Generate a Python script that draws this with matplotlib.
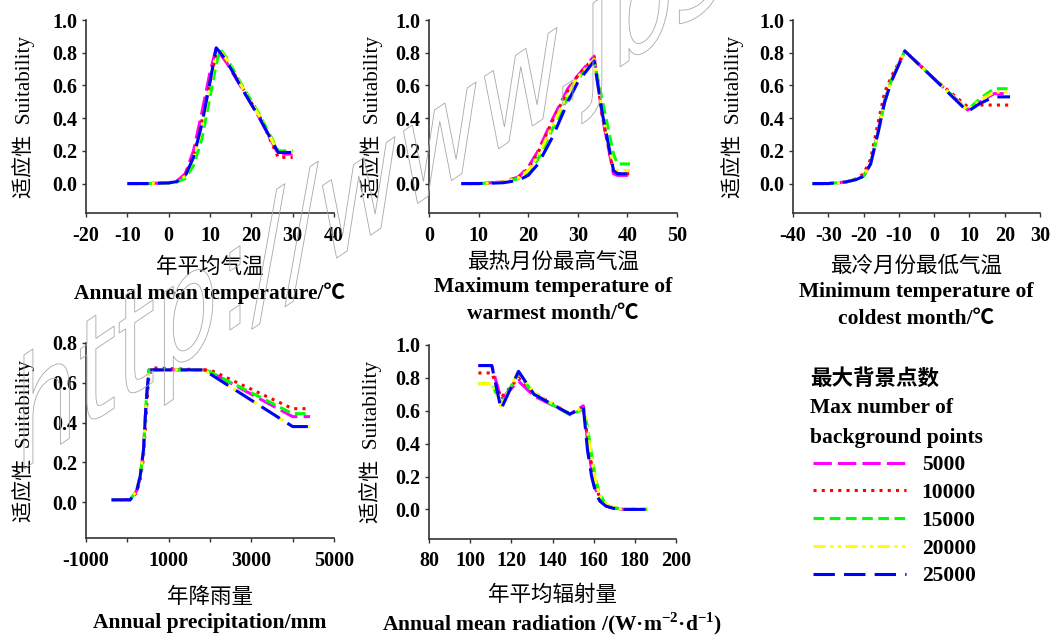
import matplotlib
matplotlib.use("Agg")
import matplotlib.pyplot as plt
from matplotlib.font_manager import FontProperties
from matplotlib.textpath import TextPath
from matplotlib.patches import PathPatch
from matplotlib.transforms import Affine2D, IdentityTransform

plt.rcParams['axes.unicode_minus'] = False
plt.rcParams['mathtext.fontset'] = 'custom'
plt.rcParams['mathtext.rm'] = 'Liberation Serif:bold'
plt.rcParams['mathtext.bf'] = 'Liberation Serif:bold'

# series = max number of background points
series = ['5000', '10000', '15000', '20000', '25000']
colors = ['#ff00ff', '#ff0000', '#00ff00', '#ffff00', '#0000ff']
styles = [(0, (6, 2)), (0, (1, 1.7)), (0, (3.5, 1.8)), (0, (4, 1.5, 1, 1.5, 1, 1.5)), (0, (7, 3))]

# annual mean temperature
x_t1 = [-10, -5, 0, 2, 4, 6, 8, 10, 11.5, 12.5, 14, 18, 22, 26.5, 30]
y_t1 = [
    [0, 0, 0.005, 0.015, 0.06, 0.20, 0.43, 0.68, 0.83, 0.79, 0.74, 0.57, 0.40, 0.18, 0.18],
    [0, 0, 0.005, 0.015, 0.05, 0.17, 0.38, 0.63, 0.79, 0.80, 0.75, 0.58, 0.41, 0.16, 0.16],
    [0, 0, 0.003, 0.010, 0.03, 0.11, 0.27, 0.53, 0.73, 0.82, 0.77, 0.59, 0.42, 0.20, 0.20],
    [0, 0, 0.004, 0.012, 0.045, 0.15, 0.34, 0.60, 0.80, 0.81, 0.76, 0.58, 0.41, 0.19, 0.19],
    [0, 0, 0.004, 0.012, 0.045, 0.16, 0.36, 0.62, 0.83, 0.80, 0.75, 0.57, 0.40, 0.19, 0.19],
]

# max temperature of warmest month
x_t2 = [6.5, 10, 15, 18, 20, 22, 25, 28, 30, 33.3, 35, 37.2, 38, 40.5]
y_t2 = [
    [0, 0, 0.01, 0.04, 0.10, 0.20, 0.40, 0.58, 0.66, 0.78, 0.40, 0.06, 0.05, 0.05],
    [0, 0, 0.01, 0.04, 0.09, 0.19, 0.39, 0.57, 0.66, 0.77, 0.40, 0.07, 0.06, 0.06],
    [0, 0, 0.008, 0.03, 0.07, 0.15, 0.34, 0.53, 0.64, 0.75, 0.50, 0.18, 0.12, 0.12],
    [0, 0, 0.009, 0.035, 0.08, 0.17, 0.36, 0.55, 0.65, 0.76, 0.42, 0.10, 0.08, 0.08],
    [0, 0, 0.005, 0.02, 0.05, 0.12, 0.29, 0.50, 0.62, 0.75, 0.42, 0.08, 0.06, 0.06],
]

# min temperature of coldest month
x_t3 = [-34.5, -30, -25, -22, -20, -18, -16, -14, -12, -8.3, 0, 9.5, 13, 17, 21.5]
y_t3 = [
    [0, 0, 0.01, 0.025, 0.045, 0.12, 0.31, 0.51, 0.64, 0.81, 0.64, 0.45, 0.50, 0.55, 0.55],
    [0, 0, 0.01, 0.03, 0.06, 0.15, 0.36, 0.56, 0.66, 0.81, 0.64, 0.47, 0.48, 0.48, 0.48],
    [0, 0, 0.01, 0.025, 0.045, 0.12, 0.30, 0.50, 0.64, 0.81, 0.64, 0.45, 0.52, 0.58, 0.58],
    [0, 0, 0.01, 0.025, 0.045, 0.12, 0.30, 0.50, 0.64, 0.81, 0.64, 0.45, 0.51, 0.56, 0.56],
    [0, 0, 0.01, 0.025, 0.045, 0.12, 0.30, 0.50, 0.63, 0.81, 0.64, 0.44, 0.49, 0.53, 0.53],
]

# annual precipitation
x_t4 = [-380, 70, 230, 310, 390, 455, 520, 600, 1850, 2000, 4000, 4420]
y_t4 = [
    [0.012, 0.012, 0.06, 0.13, 0.26, 0.50, 0.665, 0.665, 0.665, 0.655, 0.43, 0.43],
    [0.012, 0.012, 0.05, 0.11, 0.22, 0.44, 0.63, 0.675, 0.665, 0.665, 0.47, 0.47],
    [0.012, 0.012, 0.06, 0.13, 0.26, 0.50, 0.665, 0.665, 0.665, 0.655, 0.445, 0.445],
    [0.012, 0.012, 0.06, 0.13, 0.26, 0.50, 0.665, 0.665, 0.665, 0.645, 0.38, 0.38],
    [0.012, 0.012, 0.06, 0.13, 0.26, 0.50, 0.665, 0.665, 0.665, 0.645, 0.38, 0.38],
]

# annual mean radiation
x_t5 = [104, 110.5, 115, 123.5, 131, 148.5, 155, 157, 159, 161, 163, 166, 170, 175, 186]
y_t5 = [
    [0.875, 0.875, 0.67, 0.78, 0.69, 0.58, 0.63, 0.42, 0.24, 0.12, 0.06, 0.02, 0.006, 0, 0],
    [0.83, 0.83, 0.68, 0.80, 0.71, 0.58, 0.62, 0.44, 0.27, 0.14, 0.07, 0.025, 0.008, 0, 0],
    [0.765, 0.765, 0.64, 0.83, 0.70, 0.575, 0.61, 0.50, 0.33, 0.18, 0.09, 0.03, 0.01, 0, 0],
    [0.765, 0.765, 0.63, 0.84, 0.71, 0.58, 0.62, 0.48, 0.31, 0.17, 0.08, 0.03, 0.01, 0, 0],
    [0.875, 0.875, 0.61, 0.84, 0.70, 0.58, 0.62, 0.36, 0.20, 0.10, 0.05, 0.02, 0.005, 0, 0],
]

W, H = 1057, 637
fig = plt.figure(figsize=(W / 100, H / 100), dpi=100)

serif = ['Liberation Serif', 'Noto Sans CJK SC']
tick_fp = FontProperties(family='Liberation Serif', weight='bold', size=14.5)
lab_fp_size = 15.5


def add_panel(left, top, right, bottom):
    return fig.add_axes([left / W, 1 - bottom / H, (right - left) / W, (bottom - top) / H])


panels = [
    dict(box=(86, 20, 334, 213), x=x_t1, y=y_t1, xlim=(-20, 40), xticks=range(-20, 41, 10), xlabels=None,
         ylim=(-0.18, 1.0), yticks=[0, 0.2, 0.4, 0.6, 0.8, 1.0], ylab_x=-0.206,
         texts=[('年平均气温', 54), ('Annual mean temperature/℃', 80)]),
    dict(box=(429, 20, 677, 213), x=x_t2, y=y_t2, xlim=(0, 50), xticks=range(0, 51, 10), xlabels=None,
         ylim=(-0.18, 1.0), yticks=[0, 0.2, 0.4, 0.6, 0.8, 1.0], ylab_x=-0.185,
         texts=[('最热月份最高气温', 49), ('Maximum temperature of', 74), ('warmest month/℃', 101)]),
    dict(box=(793, 20, 1040, 213), x=x_t3, y=y_t3, xlim=(-40, 30), xticks=range(-40, 31, 10), xlabels=None,
         ylim=(-0.18, 1.0), yticks=[0, 0.2, 0.4, 0.6, 0.8, 1.0], ylab_x=-0.2,
         texts=[('最冷月份最低气温', 53), ('Minimum temperature of', 79), ('coldest month/℃', 106)]),
    dict(box=(86, 343, 334, 538), x=x_t4, y=y_t4, xlim=(-1000, 5000), xticks=range(-1000, 5001, 1000),
         xlabels=['-1000', '', '1000', '', '3000', '', '5000'],
         ylim=(-0.18, 0.8), yticks=[0, 0.2, 0.4, 0.6, 0.8], ylab_x=-0.206,
         texts=[('年降雨量', 59), ('Annual precipitation/mm', 85)]),
    dict(box=(429, 345, 676, 539), x=x_t5, y=y_t5, xlim=(80, 200), xticks=range(80, 201, 20), xlabels=None,
         ylim=(-0.18, 1.0), yticks=[0, 0.2, 0.4, 0.6, 0.8, 1.0], ylab_x=-0.19,
         texts=[('年平均辐射量', 56), ('Annual mean radiation /(W·m$^{-2}$·d$^{-1}$)', 85)]),
]

handles = []
for p in panels:
    ax = add_panel(*p['box'])
    ax.patch.set_visible(False)
    for i, name in enumerate(series):
        ln, = ax.plot(p['x'], p['y'][i], color=colors[i], linestyle=styles[i], lw=2.2, label=name)
        if len(handles) < len(series):
            handles.append(ln)
    ax.set_xlim(*p['xlim'])
    ax.set_ylim(*p['ylim'])
    ax.set_xticks(list(p['xticks']))
    if p['xlabels'] is not None:
        ax.set_xticklabels(p['xlabels'])
    ax.set_yticks(p['yticks'])
    ax.set_yticklabels([f'{v:.1f}' for v in p['yticks']])
    for lab in ax.get_xticklabels() + ax.get_yticklabels():
        lab.set_fontproperties(tick_fp)
    ax.tick_params(direction='out', length=3, width=1, color='#333333')
    ax.tick_params(axis='x', pad=6)
    ax.tick_params(axis='y', pad=3)
    for s in ['top', 'right']:
        ax.spines[s].set_visible(False)
    for s in ['left', 'bottom']:
        ax.spines[s].set_color('#333333')
        ax.spines[s].set_linewidth(1.2)
    ax.set_ylabel('适应性  Suitability', family=serif, fontsize=15.2)
    ax.yaxis.set_label_coords(p['ylab_x'], 0.5)
    for j, (txt, off) in enumerate(p['texts']):
        if j == 0:
            kw = dict(family='Noto Sans CJK SC', fontsize=15.5)
        else:
            kw = dict(family=serif, fontsize=lab_fp_size, weight='bold')
        ax.annotate(txt, xy=(0.5, 0), xycoords='axes fraction', xytext=(0, -off * 0.72),
                    textcoords='offset points', ha='center', va='center', **kw)

# legend block
fig.text(810 / W, 1 - 378 / H, '最大背景点数', family='Noto Sans CJK SC', fontsize=15.5,
         weight='bold', va='center', ha='left')
fig.text(810 / W, 1 - 408 / H, 'Max number of', family='Liberation Serif', fontsize=15.5,
         weight='bold', va='center', ha='left')
fig.text(810 / W, 1 - 438 / H, 'background points', family='Liberation Serif', fontsize=15.5,
         weight='bold', va='center', ha='left')
fig.legend(handles, series, loc='upper left', bbox_to_anchor=(813 / W, 1 - 455 / H),
           frameon=False, borderpad=0, borderaxespad=0, handlelength=4.3, handletextpad=0.75,
           labelspacing=0.36, prop=FontProperties(family='Liberation Serif', weight='bold', size=15.5))

# outlined watermark
tp = TextPath((0, 0), 'http://www.jbs', size=1, prop=FontProperties(family='DejaVu Sans'))
wm = Affine2D().scale(99, 150).skew_deg(0, 34).translate(15, 162)
fig.add_artist(PathPatch(wm.transform_path(tp), transform=IdentityTransform(),
                         facecolor='none', edgecolor='#a8a8a8', lw=0.6, zorder=10))

fig.savefig('out.png', dpi=100)
